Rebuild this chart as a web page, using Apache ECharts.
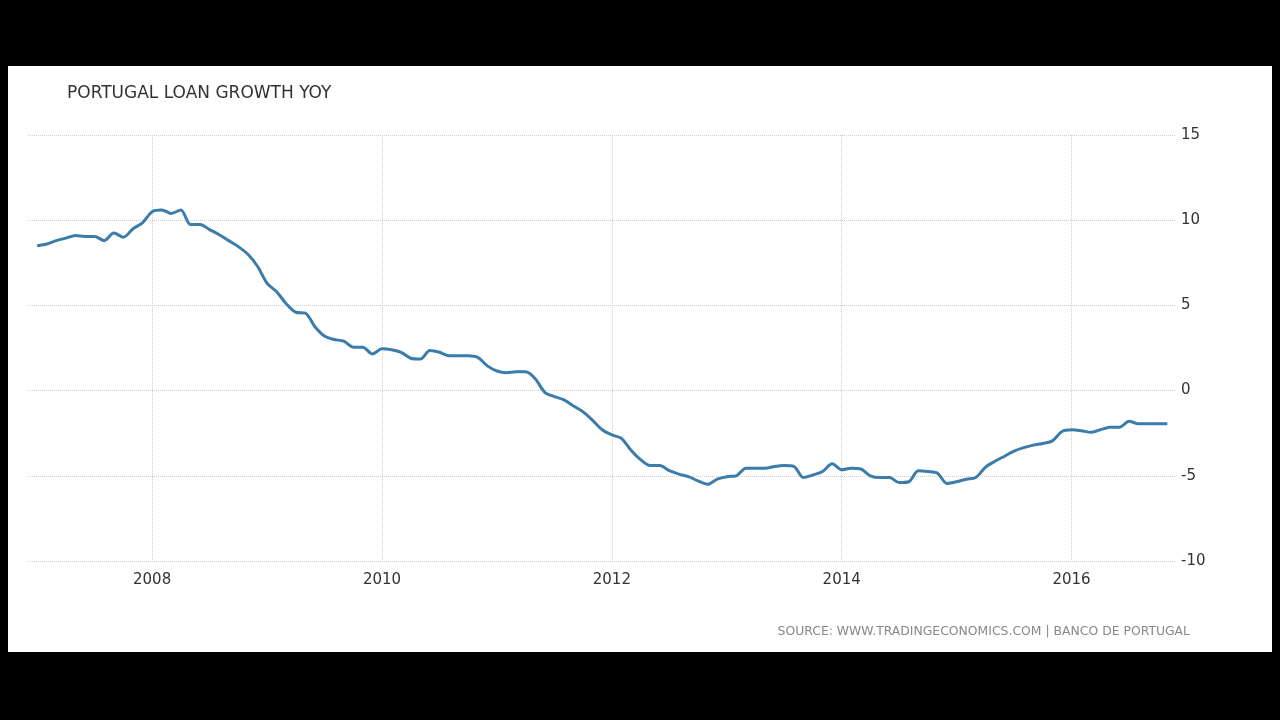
<!DOCTYPE html>
<html><head><meta charset="utf-8">
<script src="https://cdn.jsdelivr.net/npm/echarts@6/dist/echarts.min.js"></script>
<style>
html,body{margin:0;padding:0;background:#000;width:1280px;height:720px;overflow:hidden}
#c{position:absolute;left:8px;top:66px;width:1264px;height:586px;background:#fff}
</style></head>
<body><div id="c"></div>
<script>
const startYear = 2007;
const values = [
 8.5, 8.6, 8.8, 8.95, 9.1, 9.05, 9.05, 8.8, 9.25, 9.0, 9.5, 9.85,
 10.5, 10.6, 10.4, 10.6, 9.75, 9.75, 9.45, 9.15, 8.8, 8.45, 8.0, 7.3,
 6.3, 5.8, 5.1, 4.6, 4.55, 3.75, 3.2, 3.0, 2.9, 2.55, 2.55, 2.15,
 2.45, 2.4, 2.25, 1.9, 1.85, 2.35, 2.25, 2.05, 2.05, 2.05, 1.95, 1.45,
 1.15, 1.05, 1.1, 1.1, 0.7, -0.1, -0.35, -0.55, -0.9, -1.25, -1.75, -2.3,
 -2.6, -2.8, -3.5, -4.05, -4.4, -4.4, -4.7, -4.9, -5.05, -5.3, -5.5, -5.2,
 -5.05, -5.0, -4.55, -4.55, -4.55, -4.45, -4.4, -4.45, -5.1, -4.95, -4.75, -4.3,
 -4.65, -4.55, -4.6, -5.0, -5.1, -5.1, -5.4, -5.35, -4.7, -4.75, -4.85, -5.45,
 -5.35, -5.2, -5.1, -4.5, -4.15, -3.85, -3.55, -3.35, -3.2, -3.1, -2.95, -2.4,
 -2.3, -2.35, -2.45, -2.3, -2.15, -2.15, -1.8, -1.95, -1.95, -1.95, -1.95
];
const xTickYears = [2008, 2010, 2012, 2014, 2016];
const titleText = 'PORTUGAL LOAN GROWTH YOY';
const sourceText = 'SOURCE: WWW.TRADINGECONOMICS.COM | BANCO DE PORTUGAL';

const data = values.map((v, i) => [startYear + i / 12, v]);

const chart = echarts.init(document.getElementById('c'), null, {renderer: 'canvas'});
chart.setOption({
  animation: false,
  backgroundColor: '#fff',
  title: {
    text: titleText, left: 54, top: 14,
    textStyle: {fontFamily: 'DejaVu Sans', fontSize: 17, fontWeight: 'normal', color: '#333'}
  },
  graphic: [{
    type: 'text', right: 82, top: 560,
    style: {text: sourceText, fontFamily: 'DejaVu Sans', fontSize: 12.4, fill: '#888'}
  }],
  grid: {left: 20, right: 97, top: 69, bottom: 91, containLabel: false},
  xAxis: {
    type: 'value', min: 2006.92, max: 2016.9,
    axisLine: {show: false},
    axisTick: {show: false, customValues: xTickYears},
    axisLabel: {customValues: xTickYears, color: '#333', fontFamily: 'DejaVu Sans', fontSize: 15, margin: 12,
      formatter: v => String(Math.round(v))},
    splitLine: {show: true, lineStyle: {color: '#cfcfcf', type: 'dotted', width: 1}}
  },
  yAxis: {
    type: 'value', position: 'right', min: -10, max: 15, interval: 5,
    axisLine: {show: false}, axisTick: {show: false},
    axisLabel: {color: '#333', fontFamily: 'DejaVu Sans', fontSize: 15, margin: 6},
    splitLine: {show: true, lineStyle: {color: '#cfcfcf', type: 'dotted', width: 1}}
  },
  series: [{
    type: 'line', data: data, showSymbol: false, smooth: 0.3,
    lineStyle: {color: '#3b7cab', width: 3}
  }]
});
</script></body></html>
